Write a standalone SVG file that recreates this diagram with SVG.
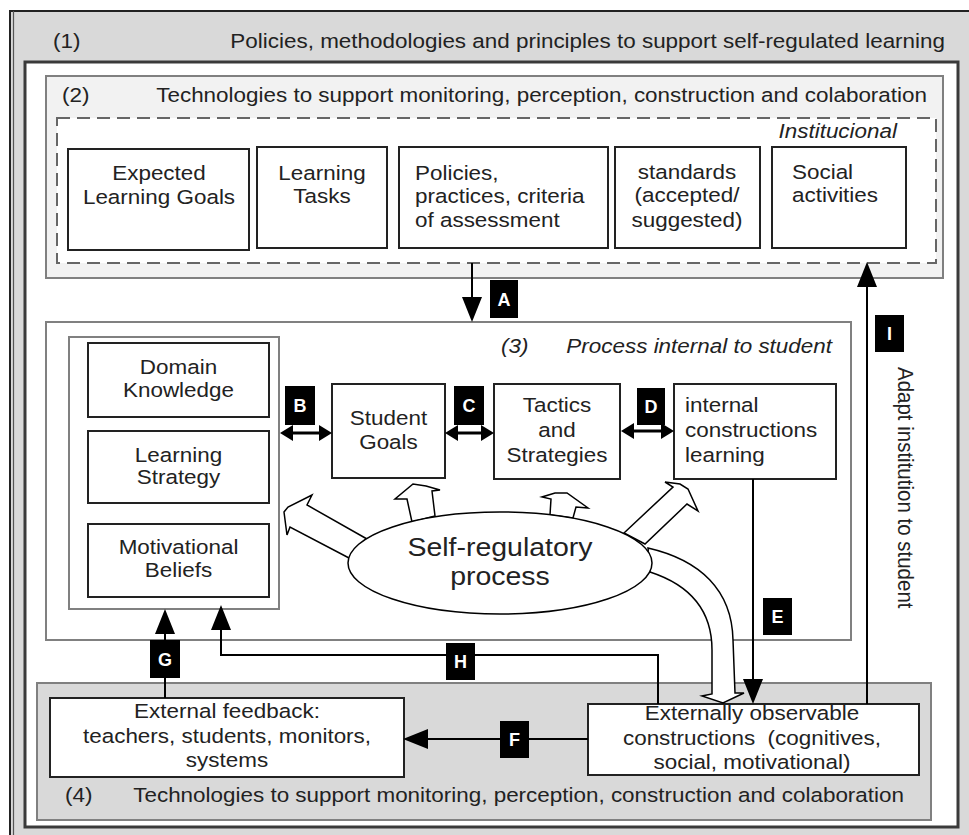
<svg xmlns="http://www.w3.org/2000/svg" width="969" height="835" viewBox="0 0 969 835">
<style>
.t{font-family:"Liberation Sans",Arial,Helvetica,sans-serif;font-size:20.5px;fill:#222}
.i{font-style:italic}
.m{text-anchor:middle}
.e{text-anchor:end}
.lb{font-family:"Liberation Sans",Arial,Helvetica,sans-serif;font-size:18px;font-weight:bold;fill:#fff;text-anchor:middle}
.box{fill:#fff;stroke:#222;stroke-width:2}
.cont{stroke:#808080;stroke-width:2}
.ln{fill:none;stroke:#000;stroke-width:2}
.dbl{fill:none;stroke:#000;stroke-width:3}
.blk{fill:#fff;stroke:#000;stroke-width:1.5;stroke-linejoin:miter}
.tag{fill:#000}
</style>
<defs>
<marker id="ah" viewBox="0 0 25 20" refX="1" refY="10" markerWidth="25" markerHeight="20" markerUnits="userSpaceOnUse" orient="auto">
<path d="M0,0 L25,10 L0,20 Z" fill="#000"/>
</marker>
<marker id="dh" viewBox="0 0 13 16" refX="1" refY="8" markerWidth="13" markerHeight="16" markerUnits="userSpaceOnUse" orient="auto-start-reverse">
<path d="M0,0 L13,8 L0,16 Z" fill="#000"/>
</marker>
</defs>

<g id="frame-1">
<rect x="10" y="11" width="962" height="830" fill="#d9d9d9" stroke="#222" stroke-width="2"/>
<line x1="13.5" y1="11" x2="13.5" y2="835" stroke="#555" stroke-width="1.2"/>
<text class="t" transform="translate(53,48) scale(1.095,1)">(1)</text>
<text class="t e" transform="translate(945,48) scale(1.095,1)">Policies, methodologies and principles to support self-regulated learning</text>
<rect x="25" y="62" width="933" height="765" fill="#fff" stroke="#3a3a3a" stroke-width="3"/>
</g>

<g id="container-2">
<rect class="cont" x="46" y="76" width="897" height="202" fill="#f2f2f2"/>
<text class="t" transform="translate(62,102) scale(1.095,1)">(2)</text>
<text class="t e" transform="translate(927,102) scale(1.095,1)">Technologies to support monitoring, perception, construction and colaboration</text>
</g>

<g id="institucional">
<rect x="57" y="118" width="879" height="145" fill="#fff" stroke="#666" stroke-width="2" stroke-dasharray="13 7"/>
<text class="t i e" transform="translate(897,138) scale(1.095,1)">Institucional</text>
</g>

<g id="n-expected">
<rect class="box" x="68" y="149" width="181" height="101"/>
<text class="t m" transform="translate(159,180) scale(1.095,1)"><tspan x="0" y="0">Expected</tspan><tspan x="0" y="24">Learning Goals</tspan></text>
</g>
<g id="n-tasks">
<rect class="box" x="257" y="147" width="130" height="101"/>
<text class="t m" transform="translate(322,180) scale(1.095,1)"><tspan x="0" y="0">Learning</tspan><tspan x="0" y="23">Tasks</tspan></text>
</g>
<g id="n-policies">
<rect class="box" x="399" y="147" width="209" height="101"/>
<text class="t" transform="translate(415,180) scale(1.095,1)"><tspan x="0" y="0">Policies,</tspan><tspan x="0" y="23">practices, criteria</tspan><tspan x="0" y="47">of assessment</tspan></text>
</g>
<g id="n-standards">
<rect class="box" x="615" y="147" width="145" height="101"/>
<text class="t m" transform="translate(687,179) scale(1.095,1)"><tspan x="0" y="0">standards</tspan><tspan x="0" y="23">(accepted/</tspan><tspan x="0" y="48">suggested)</tspan></text>
</g>
<g id="n-social">
<rect class="box" x="772" y="147" width="134" height="101"/>
<text class="t" transform="translate(792,179) scale(1.095,1)"><tspan x="0" y="0">Social</tspan><tspan x="0" y="23">activities</tspan></text>
</g>

<g id="container-3">
<rect class="cont" x="46" y="322" width="805" height="318" fill="#fff"/>
<text class="t i" transform="translate(501,353) scale(1.095,1)">(3)</text>
<text class="t i e" transform="translate(832,353) scale(1.095,1)">Process internal to student</text>
</g>

<g id="n-student-knowledge">
<rect class="cont" x="69" y="337" width="210" height="272" fill="#fff"/>
</g>
<g id="n-domain">
<rect class="box" x="88" y="343" width="181" height="74"/>
<text class="t m" transform="translate(178.5,374) scale(1.095,1)"><tspan x="0" y="0">Domain</tspan><tspan x="0" y="23">Knowledge</tspan></text>
</g>
<g id="n-strategy">
<rect class="box" x="88" y="431" width="181" height="72"/>
<text class="t m" transform="translate(178.5,462) scale(1.095,1)"><tspan x="0" y="0">Learning</tspan><tspan x="0" y="22">Strategy</tspan></text>
</g>
<g id="n-motivational">
<rect class="box" x="88" y="524" width="181" height="73"/>
<text class="t m" transform="translate(178.5,554) scale(1.095,1)"><tspan x="0" y="0">Motivational</tspan><tspan x="0" y="23">Beliefs</tspan></text>
</g>
<g id="n-goals">
<rect class="box" x="332" y="384" width="113" height="94"/>
<text class="t m" transform="translate(388.5,425) scale(1.095,1)"><tspan x="0" y="0">Student</tspan><tspan x="0" y="24">Goals</tspan></text>
</g>
<g id="n-tactics">
<rect class="box" x="494" y="384" width="126" height="95"/>
<text class="t m" transform="translate(557,412) scale(1.095,1)"><tspan x="0" y="0">Tactics</tspan><tspan x="0" y="25">and</tspan><tspan x="0" y="50">Strategies</tspan></text>
</g>
<g id="n-internal">
<rect class="box" x="674" y="384" width="162" height="95"/>
<text class="t" transform="translate(685,412) scale(1.095,1)"><tspan x="0" y="0">internal</tspan><tspan x="0" y="25">constructions</tspan><tspan x="0" y="50">learning</tspan></text>
</g>

<g id="container-4">
<rect class="cont" x="37" y="683" width="894" height="137" fill="#d9d9d9"/>
<text class="t" transform="translate(65,802) scale(1.095,1)">(4)</text>
<text class="t e" transform="translate(904,802) scale(1.095,1)">Technologies to support monitoring, perception, construction and colaboration</text>
</g>
<g id="n-feedback">
<rect class="box" x="50" y="698" width="354" height="79"/>
<text class="t m" transform="translate(227,718) scale(1.095,1)"><tspan x="0" y="0">External feedback:</tspan><tspan x="0" y="25">teachers, students, monitors,</tspan><tspan x="0" y="49">systems</tspan></text>
</g>
<g id="n-observable">
<rect class="box" x="588" y="704" width="331" height="71"/>
<text class="t m" transform="translate(752,720) scale(1.095,1)" style="white-space:pre"><tspan x="0" y="0">Externally observable</tspan><tspan x="0" y="25">constructions  (cognitives,</tspan><tspan x="0" y="49">social, motivational)</tspan></text>
</g>

<g id="connectors">
<path class="blk" d="M367,539 L307,505 L312,495 L288,507 L284,512 L287,535 L290,527 L349,558 Z"/>
<path class="blk" d="M412,522 L407,499 L395,499 L413,484 L426,486 L440,490 L432,491 L435,516 Z"/>
<path class="blk" d="M550,515 L551,499 L542,497 L555,493 L567,493 L588,508 L576,507 L573,518 Z"/>
<path class="blk" d="M624,533 L673,487 L665,482 L680,484 L688,489 L698,511 L687,504 L645,544 Z"/>
<path class="blk" d="M648,548 C700,560 732,590 733,640 L735,693 L744,693 L723,703 L702,696 L712,694 L712,650 C712,610 690,585 650,572 Z"/>
<line class="ln" x1="472" y1="263" x2="472" y2="298" marker-end="url(#ah)"/>
<line class="ln" x1="867" y1="704" x2="867" y2="286" marker-end="url(#ah)"/>
<line class="ln" x1="753" y1="479" x2="753" y2="680" marker-end="url(#ah)"/>
<line class="ln" x1="588" y1="739" x2="427" y2="739" marker-end="url(#ah)"/>
<line class="ln" x1="165" y1="698" x2="165" y2="633" marker-end="url(#ah)"/>
<polyline class="ln" points="658,704 658,655 221,655 221,629" marker-end="url(#ah)"/>
<line class="dbl" x1="292" y1="433" x2="320" y2="433" marker-start="url(#dh)" marker-end="url(#dh)"/>
<line class="dbl" x1="457" y1="433" x2="482" y2="433" marker-start="url(#dh)" marker-end="url(#dh)"/>
<line class="dbl" x1="633" y1="431" x2="662" y2="431" marker-start="url(#dh)" marker-end="url(#dh)"/>
<text class="t" transform="translate(898,367) scale(1.095,1) rotate(90)">Adapt institution to student</text>
</g>

<g id="n-selfreg">
<ellipse cx="500" cy="563" rx="152" ry="51" fill="#fff" stroke="#000" stroke-width="1.5"/>
<text class="t m" style="font-size:26px" transform="translate(500,556) scale(1.095,1)"><tspan x="0" y="0">Self-regulatory</tspan><tspan x="0" y="29">process</tspan></text>
</g>

<g id="labels">
<rect class="tag" x="490" y="280" width="28" height="38"/><text class="lb" x="504" y="305.5">A</text>
<rect class="tag" x="285" y="386" width="30" height="39"/><text class="lb" x="300" y="411.5">B</text>
<rect class="tag" x="454" y="386" width="30" height="39"/><text class="lb" x="469" y="411.5">C</text>
<rect class="tag" x="637" y="388" width="28" height="37"/><text class="lb" x="651" y="413">D</text>
<rect class="tag" x="763" y="598" width="29" height="37"/><text class="lb" x="777.5" y="623">E</text>
<rect class="tag" x="500" y="721" width="29" height="37"/><text class="lb" x="514.5" y="746">F</text>
<rect class="tag" x="150" y="640" width="30" height="38"/><text class="lb" x="165" y="665.5">G</text>
<rect class="tag" x="446" y="643" width="29" height="37"/><text class="lb" x="460.5" y="668">H</text>
<rect class="tag" x="875" y="315" width="29" height="37"/><text class="lb" x="889.5" y="340">I</text>
</g>
</svg>
